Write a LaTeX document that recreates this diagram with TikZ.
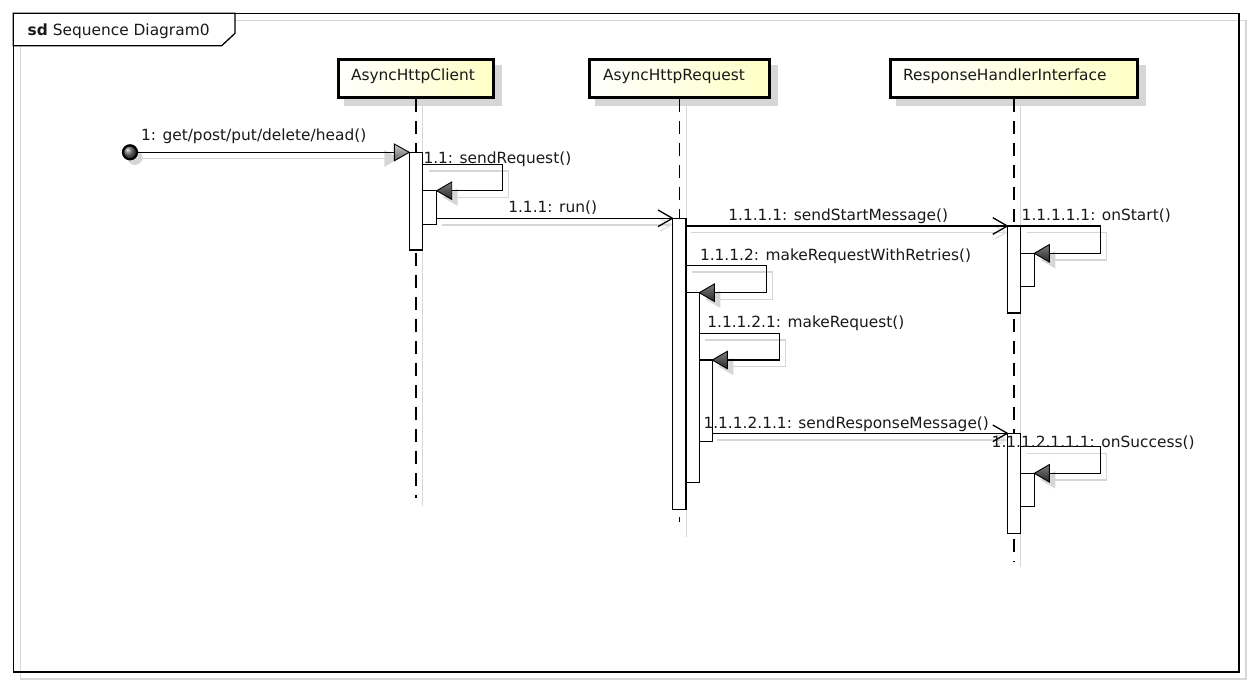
\documentclass[tikz,border=0pt]{standalone}
\usepackage{fontspec}
\setmainfont{DejaVu Sans}
\usetikzlibrary{calc}
\pgfdeclarelayer{back}
\pgfsetlayers{back,main}
\definecolor{sh}{RGB}{214,214,214}
\definecolor{ly}{RGB}{255,255,198}
\definecolor{hdark}{RGB}{40,40,40}
\definecolor{hlight}{RGB}{125,125,125}
\definecolor{txt}{RGB}{25,25,25}
\newcommand{\drawself}[3]{%
  \begin{pgfonlayer}{back}
  \draw[shline] ($(#1)+(6,6.5)$) -- ++(#3,0) |- ($(#2)+(21,6.5)$);
  \fill[sh] ($(#2)+(6,6.5)$) -- ++(15,-8.7) -- ++(0,17.4) -- cycle;
  \end{pgfonlayer}
  \draw[msg] (#1) -- ++(#3,0) |- ($(#2)+(15,0)$);
  \shade[selfhead] (#2) -- ++(15,-8.7) -- ++(0,17.4) -- cycle;
}
\newcommand{\drawcall}[2]{%
  \begin{pgfonlayer}{back}
  \draw[shline] ($(#1)+(5,6.5)$) -- ($(#2)+(-2,6.5)$);
  \draw[shline, draw=sh!70] ($(#2)+(-12,0.5)$) -- ($(#2)+(-1,6.5)$) -- ($(#2)+(-12,12.5)$);
  \end{pgfonlayer}
  \draw[msg] (#1) -- (#2);
  \draw[msg] ($(#2)+(-14.5,-8.3)$) -- (#2) -- ($(#2)+(-14.5,8.3)$);
}
\begin{document}
\begin{tikzpicture}[x=1pt,y=-1pt,
  every node/.style={font=\fontsize{15.4}{18}\selectfont, text=txt},
  lbl/.style={anchor=base west, inner sep=0, outer sep=0},
  shline/.style={draw=sh, line width=1.4pt},
  msg/.style={draw=black, line width=1.3pt},
  bar/.style={draw=black, fill=white, line width=1.2pt, rectangle, inner sep=0, outer sep=0, anchor=north west},
  lifebox/.style={draw=black, line width=3.3pt, left color=white, right color=ly, rectangle, inner sep=0, outer sep=0, anchor=north west, minimum height=38pt},
  lifeline/.style={draw=black, line width=1.3pt, dash pattern=on 13pt off 9pt},
  dot/.style={circle, draw=black, line width=2.2pt, ball color=gray!80!black, minimum size=14pt, inner sep=0},
  selfhead/.style={draw=black, line width=0.9pt, top color=hlight, bottom color=hdark},
  starthead/.style={draw=black, line width=0.9pt, top color=gray!40, bottom color=gray!75!black}
]
\useasboundingbox (0,0) rectangle (1252,685);

% ---------- background layer: frame, shadows, lifelines ----------
\begin{pgfonlayer}{back}
\fill[white] (0,0) rectangle (1252,685);
\draw[draw=sh, line width=1.3pt] (20.5,20.3) rectangle (1246,679);
\draw[line width=1.5pt] (13.3,13.3) rectangle (1239.2,672);
\draw[fill=white, line width=1.3pt] (13.3,13.3) -- (235,13.3) -- (235,33.3) -- (221.7,45.7) -- (13.3,45.7) -- cycle;
% lifeline box shadows
\fill[sh] (343.7,64.7) rectangle (502,106);
\fill[sh] (595,64.7) rectangle (778,106);
\fill[sh] (896,64.7) rectangle (1146,106);
% lifeline shadows
\draw[shline] (422.3,106) -- (422.3,506);
\draw[shline] (686.7,106) -- (686.7,536.7);
\draw[shline] (1020.7,106) -- (1020.7,567);
% dashed lifelines
\coordinate (Cend) at (416,498);
\coordinate (Rend) at (679.5,522);
\coordinate (Hend) at (1014,562);
\draw[lifeline] (416,99) -- (Cend);
\draw[lifeline] (679.5,99) -- (Rend);
\draw[lifeline] (1014,99) -- (Hend);
\end{pgfonlayer}

% ---------- title ----------
\node[lbl] (title) at (27.7,35.7) {\textbf{sd} Sequence Diagram0};

% ---------- lifeline heads ----------
\node[lifebox, minimum width=155pt] (C) at (338.3,59.3) {};
\node[lifebox, minimum width=179.6pt] (R) at (589.7,59.3) {};
\node[lifebox, minimum width=246.6pt] (H) at (890.7,59.3) {};
\node[lbl] (Ct) at (351,81) {AsyncHttpClient};
\node[lbl] (Rt) at (603,81) {AsyncHttpRequest};
\node[lbl] (Ht) at (903,81) {ResponseHandlerInterface};

% ---------- activation bars ----------
\node[bar, minimum width=13.4pt, minimum height=97.7pt] (b1) at (409.3,152.3) {};
\node[bar, minimum width=14pt, minimum height=33.6pt] (b1n) at (422.7,190.7) {};
\node[bar, minimum width=13.5pt, minimum height=291pt] (b2) at (672.5,218.3) {};
\node[bar, minimum width=13.3pt, minimum height=189.6pt] (b2n) at (686,292.7) {};
\node[bar, minimum width=13pt, minimum height=81.3pt] (b2nn) at (699.3,360) {};
\node[bar, minimum width=13.4pt, minimum height=87pt] (b3) at (1007.3,226) {};
\node[bar, minimum width=13.6pt, minimum height=33.4pt] (b3n) at (1020.7,253.3) {};
\node[bar, minimum width=13.4pt, minimum height=100pt] (b4) at (1007.3,433.3) {};
\node[bar, minimum width=13.6pt, minimum height=33.4pt] (b4n) at (1020.7,473.3) {};

% ---------- message 1 (found message) ----------
\begin{pgfonlayer}{back}
\fill[sh] (135,157.5) circle (7.5pt);
\draw[shline] (137,158.5) -- (400,158.5);
\fill[sh] ($(b1.north west)+(-10,6)$) -- ++(-15,-8.3) -- ++(0,16.8) -- cycle;
\end{pgfonlayer}
\node[dot] (start) at (130,152.3) {};
\draw[msg] (start) -- ($(b1.north west)+(-15,0)$);
\shade[starthead] (b1.north west) -- ++(-15,-8.3) -- ++(0,16.8) -- cycle;
\node[lbl] (l1) at (141,140) {1: get/post/put/delete/head()};

% ---------- 1.1 sendRequest (self) ----------
\coordinate (s11) at ($(b1.north east)+(0,12)$);
\drawself{s11}{b1n.north east}{80}
\node[lbl] (l11) at (423.5,163.5) {1.1: sendRequest()};

% ---------- 1.1.1 run ----------
\coordinate (s111) at ($(b1n.south east)+(0,-6)$);
\drawcall{s111}{b2.north west}
\node[lbl] (l111) at (508.3,212.5) {1.1.1: run()};

% ---------- 1.1.1.1 sendStartMessage ----------
\coordinate (s1111) at (b2.east |- b3.north west);
\drawcall{s1111}{b3.north west}
\node[lbl] (l1111) at (728.3,220.7) {1.1.1.1: sendStartMessage()};

% ---------- 1.1.1.1.1 onStart (self) ----------
\coordinate (s11111) at (b3.north east);
\drawself{s11111}{b3n.north east}{80}
\node[lbl] (l11111) at (1021.7,220.7) {1.1.1.1.1: onStart()};

% ---------- 1.1.1.2 makeRequestWithRetries (self) ----------
\coordinate (s1112) at ($(b2.north east)+(0,47)$);
\drawself{s1112}{b2n.north east}{80.7}
\node[lbl] (l1112) at (700,260.7) {1.1.1.2: makeRequestWithRetries()};

% ---------- 1.1.1.2.1 makeRequest (self) ----------
\coordinate (s11121) at ($(b2n.north east)+(0,40.6)$);
\drawself{s11121}{b2nn.north east}{80}
\node[lbl] (l11121) at (707.3,327.3) {1.1.1.2.1: makeRequest()};

% ---------- 1.1.1.2.1.1 sendResponseMessage ----------
\coordinate (s111211) at (b2nn.east |- b4.north west);
\drawcall{s111211}{b4.north west}
\node[lbl] (l111211) at (703.5,428) {1.1.1.2.1.1: sendResponseMessage()};

% ---------- 1.1.1.2.1.1.1 onSuccess (self) ----------
\coordinate (s1112111) at ($(b4.north east)+(0,13.4)$);
\drawself{s1112111}{b4n.north east}{80}
\node[lbl] (l1112111) at (991.7,447) {1.1.1.2.1.1.1: onSuccess()};

\end{tikzpicture}
\end{document}
